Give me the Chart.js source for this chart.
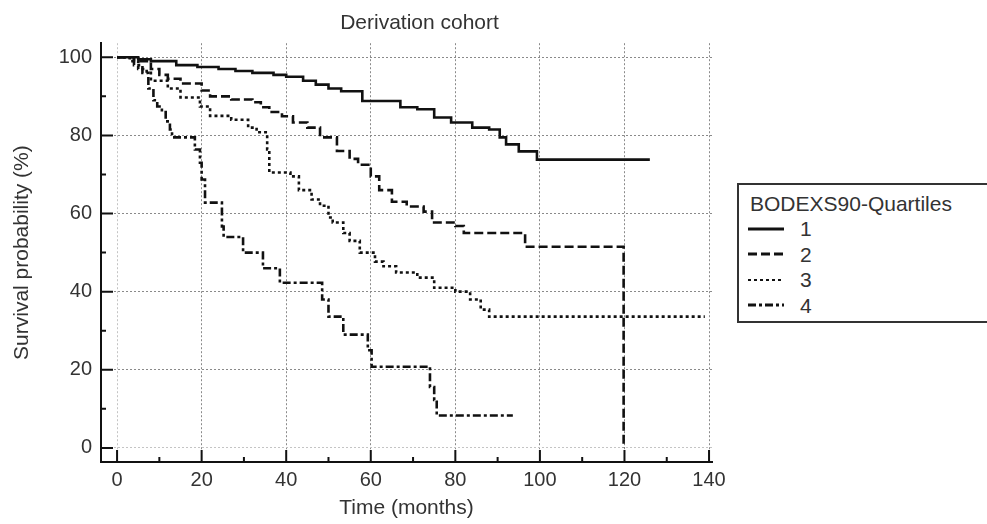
<!DOCTYPE html>
<html>
<head>
<meta charset="utf-8">
<script src="https://cdn.jsdelivr.net/npm/chart.js@4.4.1/dist/chart.umd.min.js"></script>
<style>
    body { margin: 0; background: #fff; overflow: hidden; }
    #wrap { position: relative; width: 987px; height: 524px; }
    #legend {
        position: absolute; left: 737px; top: 183px; width: 270px; height: 140px;
        box-sizing: border-box; border: 2px solid #333; background: #fff;
        font-family: "Liberation Sans", Arial, sans-serif; font-size: 21px; color: #333;
        padding: 6px 0 0 11px; line-height: 25px;
    }
    #legend .row { display: flex; align-items: center; height: 25.5px; margin-left: -2px; }
    #legend svg { width: 36px; height: 10px; margin-right: 16px; }
</style>
</head>
<body>
<div id="wrap">
    <canvas id="km-chart" width="987" height="524"></canvas>
    <div id="legend"></div>
</div>
<script>
// Kaplan-Meier steps: time of each drop (months) and survival after it (%)
const months1 = [0, 5, 8, 14, 19, 24, 28, 32, 37, 40, 44, 47, 50, 53, 58, 67, 71, 75, 79, 84, 88, 90.5, 92, 95, 99.3, 126];
const surv1 = [100, 99.5, 99, 98, 97.5, 97, 96.5, 96, 95.5, 95, 94, 93, 92, 91.3, 88.8, 87.2, 86.7, 84.6, 83.3, 82, 81.5, 79.5, 77.7, 75.9, 73.8, 73.8];

const months2 = [0, 4, 8, 10, 12, 15, 20, 22, 27, 32, 34, 36, 39, 41.6, 45, 48, 52, 55, 57, 60, 62, 65, 68.5, 72.5, 74.5, 80, 82, 96.5, 119.8];
const surv2 = [100, 99, 97, 95.5, 94.5, 93.3, 91.5, 90, 89.2, 88.5, 87.2, 86, 84.9, 83.3, 82, 79.5, 76, 74, 72.5, 69.5, 66, 63, 61.8, 60.5, 57.7, 56.8, 55, 51.5, 0];

const months3 = [0, 3, 5, 7, 8, 12, 15, 19.6, 22, 27, 31, 33, 35.5, 36, 41, 43, 46, 48, 50, 51, 53.5, 55, 57.4, 61, 63, 66, 71, 75, 80, 83.5, 86, 88, 139];
const surv3 = [100, 99, 97, 96, 94, 92, 89.7, 87.4, 85, 84, 82, 80.8, 76.4, 70.5, 69.5, 66, 63.6, 62, 59, 57.7, 55, 53, 50, 47.7, 46.5, 44.9, 43.6, 41, 40, 38, 35.4, 33.6, 33.6];

const months4 = [0, 4, 6, 7.4, 8.6, 9.5, 10.6, 11.5, 12.5, 13, 18.4, 19.6, 20, 20.8, 24.8, 25.2, 29.8, 34.5, 38.5, 48.5, 50, 53.5, 59.3, 60.2, 74, 75, 75.6, 93.6];
const surv4 = [100, 98, 96, 92, 89, 87.4, 86, 83.6, 81.5, 79.5, 76.4, 73, 68.7, 62.8, 56.7, 54, 50, 46, 42.3, 38, 33.6, 29, 25, 20.8, 15.6, 12.3, 8.3, 8.3];

const groupLabels = ['1', '2', '3', '4'];
const xTicks = [0, 20, 40, 60, 80, 100, 120, 140];
const yTicks = [0, 20, 40, 60, 80, 100];

const dashes = [[], [9, 4], [3, 3], [8, 3, 3, 3]];
const series = [[months1, surv1], [months2, surv2], [months3, surv3], [months4, surv4]];

Chart.defaults.font.family = '"Liberation Sans", Arial, sans-serif';
Chart.defaults.color = '#333';

function minorOf(major) {
    const out = [];
    for (let i = 0; i < major.length - 1; i++) out.push((major[i] + major[i + 1]) / 2);
    return out;
}

// tick marks drawn inward from the axis lines
const innerTicks = {
    id: 'innerTicks',
    afterDraw(chart) {
        const { ctx, chartArea, scales: { x, y } } = chart;
        ctx.save();
        ctx.setLineDash([]);
        ctx.strokeStyle = '#111';
        ctx.lineWidth = 2;
        ctx.beginPath();
        xTicks.forEach(v => { const px = x.getPixelForValue(v); ctx.moveTo(px, chartArea.bottom); ctx.lineTo(px, chartArea.bottom - 12); });
        minorOf(xTicks).forEach(v => { const px = x.getPixelForValue(v); ctx.moveTo(px, chartArea.bottom); ctx.lineTo(px, chartArea.bottom - 5); });
        yTicks.forEach(v => { const py = y.getPixelForValue(v); ctx.moveTo(chartArea.left, py); ctx.lineTo(chartArea.left + 12, py); });
        minorOf(yTicks).forEach(v => { const py = y.getPixelForValue(v); ctx.moveTo(chartArea.left, py); ctx.lineTo(chartArea.left + 5, py); });
        ctx.stroke();
        ctx.restore();
    }
};

// the reference centres its title a little right of the plot centre
const titleNudge = {
    id: 'titleNudge',
    afterLayout(chart) {
        if (chart.titleBlock) chart.titleBlock.left += 26;
    }
};

const gridColor = c => (c.tick && c.tick.value === 0 ? '#c4c4c4' : '#8a8a8a');

new Chart(document.getElementById('km-chart'), {
    type: 'line',
    data: {
        datasets: series.map(([t, s], i) => ({
            label: groupLabels[i],
            data: t.map((m, k) => ({ x: m, y: s[k] })),
            stepped: 'before',
            borderColor: '#111',
            borderWidth: 2.6,
            borderDash: dashes[i],
            pointRadius: 0,
            fill: false
        }))
    },
    options: {
        responsive: false,
        animation: false,
        layout: { padding: { left: 0, right: 275, top: 0, bottom: 0 } },
        plugins: {
            legend: { display: false },
            tooltip: { enabled: false },
            title: {
                display: true,
                text: 'Derivation cohort',
                fullSize: false,
                font: { size: 21, weight: 'normal' },
                padding: { top: 11, bottom: 7 }
            }
        },
        scales: {
            x: {
                type: 'linear',
                min: -3.8,
                max: 140.7,
                afterBuildTicks: s => { s.ticks = xTicks.map(v => ({ value: v })); },
                afterFit: s => { s.height = 62; },
                ticks: { font: { size: 20 }, padding: 6, autoSkip: false, maxRotation: 0 },
                grid: { color: gridColor, lineWidth: 1, drawTicks: false },
                border: { display: true, color: '#111', width: 2, dash: [2, 2] },
                title: { display: true, text: 'Time (months)', font: { size: 21 }, padding: { top: 0, bottom: 3 } }
            },
            y: {
                min: -3.6,
                max: 103.6,
                afterBuildTicks: s => { s.ticks = yTicks.map(v => ({ value: v })); },
                afterFit: s => { s.width = 101; },
                ticks: { font: { size: 20 }, padding: 9, autoSkip: false },
                grid: { color: gridColor, lineWidth: 1, drawTicks: false },
                border: { display: true, color: '#111', width: 2, dash: [2, 2] },
                title: { display: true, text: 'Survival probability (%)', font: { size: 21 }, padding: { top: 10, bottom: 0 } }
            }
        }
    },
    plugins: [innerTicks, titleNudge]
});

// legend box
const legend = document.getElementById('legend');
legend.innerHTML = '<div>BODEXS90-Quartiles</div>' + groupLabels.map((lab, i) => {
    const w = i === 2 ? 2 : 3;
    return '<div class="row"><svg viewBox="0 0 36 10"><line x1="0" y1="5" x2="36" y2="5" stroke="#111" stroke-width="' + w +
        '" stroke-dasharray="' + dashes[i].join(' ') + '"/></svg><span>' + lab + '</span></div>';
}).join('');
</script>
</body>
</html>
